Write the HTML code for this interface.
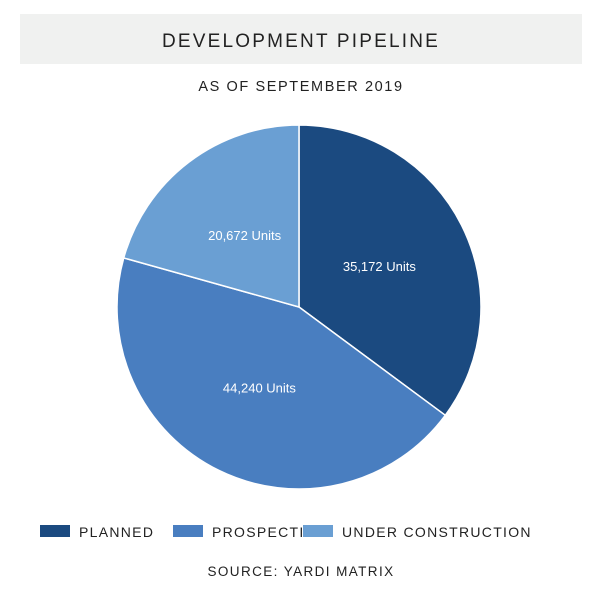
<!DOCTYPE html>
<html>
<head>
<meta charset="utf-8">
<style>
  html,body{margin:0;padding:0;background:#fff;}
  body{width:602px;height:602px;position:relative;overflow:hidden;font-family:"Liberation Sans",sans-serif;}
  .hdr{position:absolute;left:20px;top:14px;width:562px;height:50px;background:#f0f1f0;}
  .title{position:absolute;left:0;top:0;width:602px;text-align:center;}
</style>
</head>
<body>
<div class="hdr"></div>
<div class="title" style="top:31px;font-size:19px;letter-spacing:2.2px;color:#222;">DEVELOPMENT PIPELINE</div>
<div class="title" style="top:79px;font-size:14.5px;letter-spacing:1.6px;color:#222;">AS OF SEPTEMBER 2019</div>
<svg id="chart" width="602" height="602" style="position:absolute;left:0;top:0"></svg>
<div class="title" style="top:564px;font-size:13.5px;letter-spacing:1.4px;color:#222;">SOURCE: YARDI MATRIX</div>
<script>
const categories = ["PLANNED", "PROSPECTIVE", "UNDER CONSTRUCTION"];
const values = [35172, 44240, 20672];
const labels = ["35,172 Units", "44,240 Units", "20,672 Units"];
const colors = ["#1b4a80", "#497ec0", "#6a9fd3"];

const NS = "http://www.w3.org/2000/svg";
const svg = document.getElementById("chart");
const cx = 299, cy = 307, R = 182, LR = 90;
const total = values.reduce((a,b)=>a+b,0);
function pt(angDeg, r){
  const a = angDeg*Math.PI/180;
  return [cx + r*Math.sin(a), cy - r*Math.cos(a)];
}
let start = 0;
values.forEach((v,i)=>{
  const sweep = v/total*360;
  const end = start + sweep;
  const [x1,y1] = pt(start,R), [x2,y2] = pt(end,R);
  const p = document.createElementNS(NS,"path");
  p.setAttribute("d",`M${cx},${cy} L${x1},${y1} A${R},${R} 0 ${sweep>180?1:0} 1 ${x2},${y2} Z`);
  p.setAttribute("fill",colors[i]);
  p.setAttribute("stroke","#fff");
  p.setAttribute("stroke-width","1.5");
  
  
  svg.appendChild(p);
  const [lx,ly] = pt(start+sweep/2, LR);
  const t = document.createElementNS(NS,"text");
  t.setAttribute("x",lx); t.setAttribute("y",ly+4.5);
  t.setAttribute("text-anchor","middle");
  t.setAttribute("fill","#fff");
  t.setAttribute("font-size","13");
  t.setAttribute("font-family","Liberation Sans, sans-serif");
  t.textContent = labels[i];
  
  
  svg.appendChild(t);
  start = end;
});
// legend
const legX = [40, 173, 303];
categories.forEach((c,i)=>{
  const r = document.createElementNS(NS,"rect");
  r.setAttribute("x",legX[i]); r.setAttribute("y",525);
  r.setAttribute("width",30); r.setAttribute("height",12);
  r.setAttribute("fill",colors[i]);
  
  
  svg.appendChild(r);
  const t = document.createElementNS(NS,"text");
  t.setAttribute("x",legX[i]+39); t.setAttribute("y",537);
  t.setAttribute("font-size","14");
  t.setAttribute("letter-spacing","1.3");
  t.setAttribute("fill","#222");
  t.setAttribute("font-family","Liberation Sans, sans-serif");
  t.textContent = c;
  
  
  svg.appendChild(t);
});
</script>
</body>
</html>
